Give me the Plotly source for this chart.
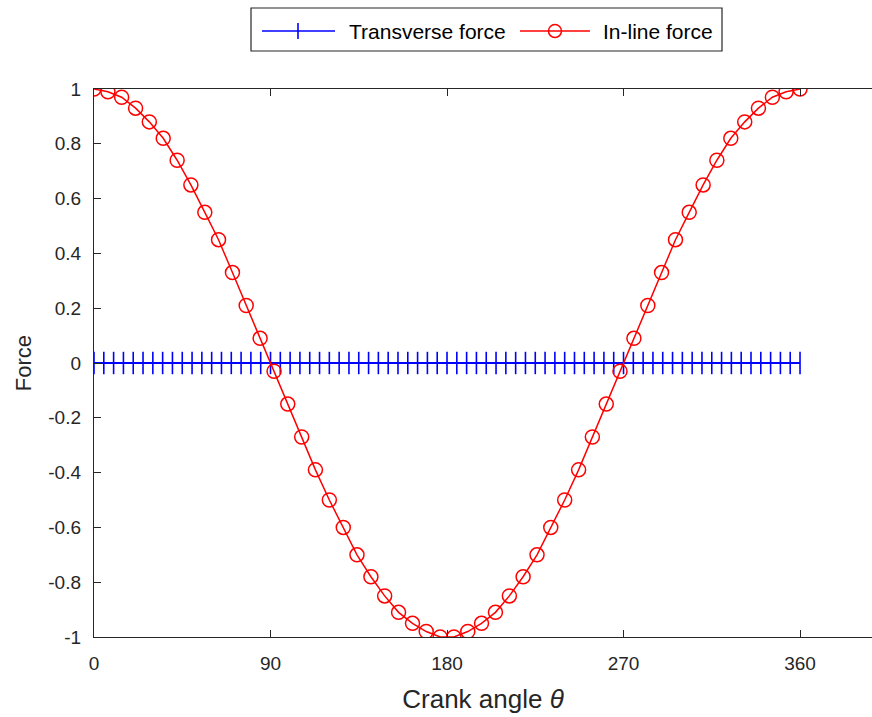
import plotly.graph_objects as go

# Crank angle samples (degrees) for each series
transverse_angle = [0, 5, 10, 15, 20, 25, 30, 35, 40, 45, 50, 55, 60, 65, 70, 75,
                    80, 85, 90, 95, 100, 105, 110, 115, 120, 125, 130, 135, 140,
                    145, 150, 155, 160, 165, 170, 175, 180, 185, 190, 195, 200,
                    205, 210, 215, 220, 225, 230, 235, 240, 245, 250, 255, 260,
                    265, 270, 275, 280, 285, 290, 295, 300, 305, 310, 315, 320,
                    325, 330, 335, 340, 345, 350, 355, 360]
transverse_force = [0.0, 0.0, 0.0, 0.0, 0.0, 0.0, 0.0, 0.0, 0.0, 0.0, 0.0, 0.0,
                    0.0, 0.0, 0.0, 0.0, 0.0, 0.0, 0.0, 0.0, 0.0, 0.0, 0.0, 0.0,
                    0.0, 0.0, 0.0, 0.0, 0.0, 0.0, 0.0, 0.0, 0.0, 0.0, 0.0, 0.0,
                    0.0, 0.0, 0.0, 0.0, 0.0, 0.0, 0.0, 0.0, 0.0, 0.0, 0.0, 0.0,
                    0.0, 0.0, 0.0, 0.0, 0.0, 0.0, 0.0, 0.0, 0.0, 0.0, 0.0, 0.0,
                    0.0, 0.0, 0.0, 0.0, 0.0, 0.0, 0.0, 0.0, 0.0, 0.0, 0.0, 0.0,
                    0.0]

inline_angle = [0.0, 7.1, 14.1, 21.2, 28.2, 35.3, 42.4, 49.4, 56.5, 63.5, 70.6,
                77.6, 84.7, 91.8, 98.8, 105.9, 112.9, 120.0, 127.1, 134.1, 141.2,
                148.2, 155.3, 162.4, 169.4, 176.5, 183.5, 190.6, 197.6, 204.7,
                211.8, 218.8, 225.9, 232.9, 240.0, 247.1, 254.1, 261.2, 268.2,
                275.3, 282.4, 289.4, 296.5, 303.5, 310.6, 317.6, 324.7, 331.8,
                338.8, 345.9, 352.9, 360.0]
inline_force = [1.00, 0.99, 0.97, 0.93, 0.88, 0.82, 0.74, 0.65, 0.55, 0.45, 0.33,
                0.21, 0.09, -0.03, -0.15, -0.27, -0.39, -0.50, -0.60, -0.70,
                -0.78, -0.85, -0.91, -0.95, -0.98, -1.00, -1.00, -0.98, -0.95,
                -0.91, -0.85, -0.78, -0.70, -0.60, -0.50, -0.39, -0.27, -0.15,
                -0.03, 0.09, 0.21, 0.33, 0.45, 0.55, 0.65, 0.74, 0.82, 0.88,
                0.93, 0.97, 0.99, 1.00]

x_ticks = [0, 90, 180, 270, 360]
y_ticks = [-1, -0.8, -0.6, -0.4, -0.2, 0, 0.2, 0.4, 0.6, 0.8, 1]
y_tick_text = ["-1", "-0.8", "-0.6", "-0.4", "-0.2", "0", "0.2", "0.4", "0.6", "0.8", "1"]

AX = "#262626"
BLUE = "#0000ff"
RED = "#ff0000"
FONT = "Liberation Sans, Arial, sans-serif"

fig = go.Figure()
fig.add_trace(go.Scatter(
    x=transverse_angle, y=transverse_force, name="Transverse force",
    mode="lines+markers",
    line=dict(color=BLUE, width=2),
    marker=dict(symbol="line-ns", size=16, line=dict(color=BLUE, width=1.6)),
))
fig.add_trace(go.Scatter(
    x=inline_angle, y=inline_force, name="In-line force",
    mode="lines+markers",
    line=dict(color=RED, width=1.5),
    marker=dict(symbol="circle-open", size=14, color=RED,
                line=dict(color=RED, width=1.5)),
))

# Legend box above the axes, with long sample lines
LEG_Y = 1.1058
legend_shapes = [
    dict(type="rect", xref="paper", yref="paper", x0=0.2018, x1=0.8072,
         y0=1.0693, y1=1.1478, line=dict(color=AX, width=1.2), fillcolor="white",
         layer="above"),
    dict(type="line", xref="paper", yref="paper", x0=0.2159, x1=0.3098,
         y0=LEG_Y, y1=LEG_Y, line=dict(color=BLUE, width=1.5)),
    dict(type="line", xref="paper", yref="paper", ysizemode="pixel",
         yanchor=LEG_Y, x0=0.2622, x1=0.2622, y0=-8, y1=8,
         line=dict(color=BLUE, width=1.6)),
    dict(type="line", xref="paper", yref="paper", x0=0.5476, x1=0.6375,
         y0=LEG_Y, y1=LEG_Y, line=dict(color=RED, width=1.5)),
    dict(type="circle", xref="paper", yref="paper", xsizemode="pixel",
         ysizemode="pixel", xanchor=0.5925, yanchor=LEG_Y,
         x0=-6.5, x1=6.5, y0=-6.5, y1=6.5, line=dict(color=RED, width=1.5)),
]
legend_labels = [
    dict(text="Transverse force", x=0.3252, y=LEG_Y),
    dict(text="In-line force", x=0.6517, y=LEG_Y),
]

fig.update_layout(
    width=872, height=717,
    margin=dict(l=94, r=0, t=89, b=80),
    paper_bgcolor="white", plot_bgcolor="white",
    font=dict(family=FONT, size=18, color=AX),
    showlegend=False,
    shapes=legend_shapes,
    annotations=[dict(text=a["text"], x=a["x"], y=a["y"], xref="paper", yref="paper",
                      xanchor="left", yanchor="middle", showarrow=False,
                      font=dict(size=21, color="#000000"))
                 for a in legend_labels],
    xaxis=dict(
        range=[0, 396.7], tickvals=x_ticks, ticktext=[str(v) for v in x_ticks],
        ticks="inside", ticklen=7, tickwidth=1.2, tickcolor=AX,
        showline=True, linecolor=AX, linewidth=1.3, mirror="ticks",
        showgrid=False, zeroline=False,
        tickfont=dict(size=19, color=AX), ticklabelstandoff=9,
        title=dict(text="Crank angle <i>θ</i>", font=dict(size=26, color=AX), standoff=16),
    ),
    yaxis=dict(
        range=[-1, 1], tickvals=y_ticks, ticktext=y_tick_text,
        ticks="inside", ticklen=7, tickwidth=1.2, tickcolor=AX,
        showline=True, linecolor=AX, linewidth=1.3,
        showgrid=False, zeroline=False,
        tickfont=dict(size=19, color=AX), ticklabelstandoff=8,
        title=dict(text="Force", font=dict(size=22, color=AX), standoff=10),
    ),
    yaxis2=dict(
        range=[-1, 1], tickvals=y_ticks, overlaying="y", side="right", anchor="x",
        ticks="inside", ticklen=7, tickwidth=1.2, tickcolor=AX,
        showline=False, showgrid=False, zeroline=False, showticklabels=False,
    ),
)

fig.write_html("out.html")
